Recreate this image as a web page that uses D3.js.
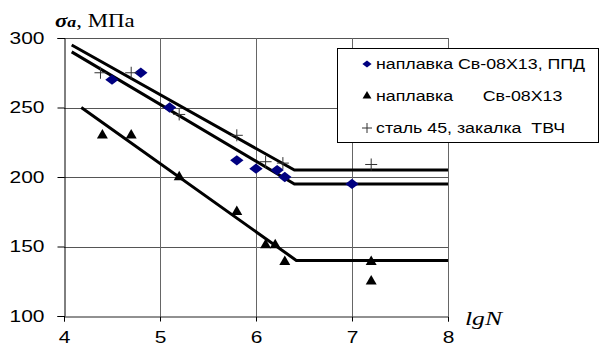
<!DOCTYPE html>
<html>
<head>
<meta charset="utf-8">
<script src="https://cdn.jsdelivr.net/npm/d3@7"></script>
<style>
  body { margin: 0; background: #fff; }
  svg { display: block; }
  .tick text { font-family: "Liberation Sans", Arial, sans-serif; font-size: 16.5px; fill: #000; }
  .legend text { font-family: "Liberation Sans", Arial, sans-serif; font-size: 14px; white-space: pre; }
</style>
</head>
<body>
<div id="chart"></div>
<script>
// data
const xTicks = [4, 5, 6, 7, 8];
const yTicks = [100, 150, 200, 250, 300];

// наплавка Св-08Х13, ППД
const ppdX = [4.5, 4.8, 5.1, 5.8, 6.0, 6.22, 6.3, 7.0];
const ppdY = [270, 275, 250, 212, 206, 205, 200, 195];
// наплавка Св-08Х13
const weldX = [4.4, 4.7, 5.2, 5.8, 6.1, 6.2, 6.3, 7.2, 7.2];
const weldY = [230, 230, 200, 175, 151, 151, 139, 139, 125];
// сталь 45, закалка ТВЧ
const steelX = [4.38, 4.7, 5.2, 5.8, 6.1, 6.28, 7.2];
const steelY = [275, 275, 245, 230, 211, 210, 209];

// fitted curves (sloped part + endurance limit)
const fitUpperX = [4.08, 6.4, 8];
const fitUpperY = [295, 205, 205];
const fitMidX = [4.08, 6.4, 8];
const fitMidY = [290, 195, 195];
const fitLowX = [4.18, 6.42, 8];
const fitLowY = [250, 140, 140];

const legendLabels = ['наплавка Св-08Х13, ППД', 'наплавка      Св-08Х13', 'сталь 45, закалка  ТВЧ'];

const W = 609, H = 349;
const margin = { top: 38, right: 161, bottom: 33, left: 64 };
const stretch = 1.27; // the original picture is wider than tall, text looks stretched

const svg = d3.select('#chart').append('svg')
  .attr('width', W)
  .attr('height', H);

const x = d3.scaleLinear().domain([4, 8]).range([margin.left, W - margin.right]);
const y = d3.scaleLinear().domain([100, 300]).range([H - margin.bottom, margin.top]);

// grid
svg.append('g')
  .selectAll('line')
  .data(yTicks.slice(1))
  .enter().append('line')
  .attr('x1', x(4)).attr('x2', x(8))
  .attr('y1', d => Math.round(y(d)) + 0.5).attr('y2', d => Math.round(y(d)) + 0.5)
  .attr('stroke', '#555');

svg.append('g')
  .selectAll('line')
  .data(xTicks.slice(1))
  .enter().append('line')
  .attr('x1', d => Math.round(x(d)) + 0.5).attr('x2', d => Math.round(x(d)) + 0.5)
  .attr('y1', y(300)).attr('y2', y(100))
  .attr('stroke', '#666');

// axes
const xAxis = svg.append('g')
  .attr('transform', `translate(0,${Math.round(y(100)) + 0.5})`)
  .call(d3.axisBottom(x).tickValues(xTicks).tickSize(5).tickPadding(10).tickFormat(d3.format('d')));
xAxis.select('.domain').attr('stroke', '#222');
xAxis.selectAll('.tick text').attr('transform', `scale(${stretch},1)`);

const yAxis = svg.append('g')
  .attr('transform', `translate(${Math.round(x(4)) + 0.5},0)`)
  .call(d3.axisLeft(y).tickValues(yTicks).tickSize(7).tickPadding(13).tickFormat(d3.format('d')));
yAxis.select('.domain').attr('stroke', '#000');
yAxis.selectAll('.tick text')
  .attr('x', 0)
  .attr('transform', `translate(-20,0) scale(${stretch},1)`);

// fitted lines
const fits = [
  fitUpperX.map((v, i) => [v, fitUpperY[i]]),
  fitMidX.map((v, i) => [v, fitMidY[i]]),
  fitLowX.map((v, i) => [v, fitLowY[i]])
];
const line = d3.line().x(d => x(d[0])).y(d => y(d[1]));
svg.append('g')
  .selectAll('path')
  .data(fits)
  .enter().append('path')
  .attr('d', line)
  .attr('fill', 'none')
  .attr('stroke', '#000')
  .attr('stroke-width', 3);

// markers
const diamond = d3.symbol().type(d3.symbolSquare).size(68);
svg.append('g')
  .selectAll('path')
  .data(ppdX.map((v, i) => [v, ppdY[i]]))
  .enter().append('path')
  .attr('d', diamond)
  .attr('transform', d => `translate(${x(d[0])},${y(d[1])}) scale(1.15,0.88) rotate(45)`)
  .attr('fill', '#000080');

const tri = d3.symbol().type(d3.symbolTriangle).size(52);
svg.append('g')
  .selectAll('path')
  .data(weldX.map((v, i) => [v, weldY[i]]))
  .enter().append('path')
  .attr('d', tri)
  .attr('transform', d => `translate(${x(d[0])},${y(d[1])})`)
  .attr('fill', '#000');

const cross = svg.append('g')
  .selectAll('g')
  .data(steelX.map((v, i) => [v, steelY[i]]))
  .enter().append('g')
  .attr('transform', d => `translate(${x(d[0])},${y(d[1])})`)
  .attr('stroke', '#333')
  .attr('stroke-width', 1);
cross.append('line').attr('x1', -6).attr('x2', 6);
cross.append('line').attr('y1', -6).attr('y2', 6);

// axis titles
const yTitle = svg.append('text')
  .attr('transform', `translate(55,27) scale(${stretch},1)`)
  .style('font-family', '"Liberation Serif", "Times New Roman", serif')
  .style('font-size', '18px');
yTitle.append('tspan').style('font-weight', 'bold').style('font-style', 'italic').text('σ');
yTitle.append('tspan').style('font-weight', 'bold').style('font-style', 'italic').style('font-size', '14px').text('a');
yTitle.append('tspan').text(', МПа');

svg.append('text')
  .attr('transform', 'translate(465,325) scale(1.35,1)')
  .style('font-family', '"Liberation Serif", "Times New Roman", serif')
  .style('font-size', '19px')
  .style('font-style', 'italic')
  .text('lgN');

// legend
const legend = svg.append('g').attr('class', 'legend');
legend.append('rect')
  .attr('x', 337.5).attr('y', 48.5)
  .attr('width', 261).attr('height', 94)
  .attr('fill', '#fff')
  .attr('stroke', '#000');

const rows = legend.selectAll('g.row')
  .data(legendLabels)
  .enter().append('g')
  .attr('class', 'row')
  .attr('transform', (d, i) => `translate(367,${64 + i * 32})`);

rows.append('text')
  .attr('dy', '0.35em')
  .attr('transform', `translate(9,0) scale(${stretch},1)`)
  .text(d => d);

rows.filter((d, i) => i === 0).append('path')
  .attr('d', d3.symbol().type(d3.symbolSquare).size(32))
  .attr('transform', 'scale(1.15,0.9) rotate(45)')
  .attr('fill', '#000080');
rows.filter((d, i) => i === 1).append('path')
  .attr('d', d3.symbol().type(d3.symbolTriangle).size(34))
  .attr('fill', '#000');
const lc = rows.filter((d, i) => i === 2).append('g').attr('stroke', '#333');
lc.append('line').attr('x1', -5).attr('x2', 5);
lc.append('line').attr('y1', -5).attr('y2', 5);
</script>
</body>
</html>
